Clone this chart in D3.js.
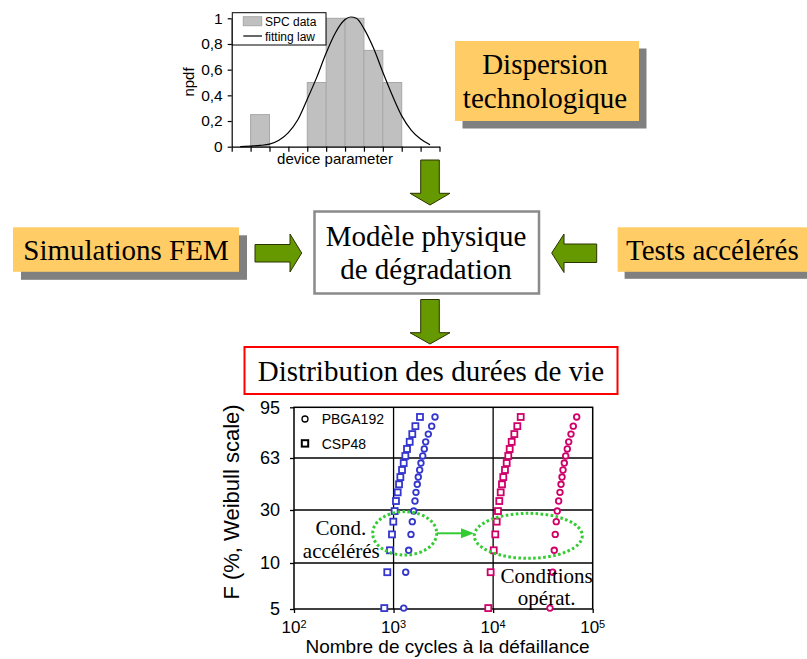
<!DOCTYPE html>
<html>
<head>
<meta charset="utf-8">
<script src="https://cdn.jsdelivr.net/npm/d3@7"></script>
<style>
  body { margin: 0; background: #fff; }
  svg { display: block; }
</style>
</head>
<body>
<script>
// --- histogram (top) ---
const bins = [0, 1, 2, 3, 4, 5, 6, 7, 8, 9, 10]
const npdf = [0, 0.25, 0, 0, 0.5, 1, 1, 0.75, 0.5, 0, 0]
const fitX = [0.45, 1, 1.5, 2, 2.5, 3, 3.5, 4, 4.5, 5, 5.5, 6, 6.3, 6.6, 7, 7.5, 8, 8.5, 9, 9.5, 10, 10.5]
const fitY = [0, 0.005, 0.01, 0.02, 0.05, 0.11, 0.21, 0.37, 0.54, 0.73, 0.89, 0.99, 1.01, 1.0, 0.92, 0.77, 0.58, 0.40, 0.24, 0.13, 0.06, 0.015]
const npdfTicks = [0, 0.2, 0.4, 0.6, 0.8, 1]
const npdfLabels = ['0', '0,2', '0,4', '0,6', '0,8', '1']

// --- Weibull plot (bottom) ---
const fRank = [88.9, 83.1, 78.1, 73.2, 68.7, 64.3, 59.8, 55.4, 50.9, 46.3, 41.2, 35.7, 29.6, 25.6, 20.8, 14.8, 9.0, 5.1]
const cspAccel = [1842, 1656, 1542, 1452, 1365, 1313, 1264, 1216, 1170, 1135, 1100, 1057, 1025, 994, 964, 920, 865, 807]
const pbgaAccel = [2607, 2415, 2233, 2102, 2035, 1963, 1884, 1829, 1771, 1730, 1679, 1641, 1592, 1542, 1496, 1419, 1324, 1265]
const cspOper = [18920, 17490, 16330, 15360, 14660, 14190, 13680, 13150, 12650, 12270, 11910, 11530, 11190, 10860, 10510, 10140, 9440, 8940]
const pbgaOper = [69040, 63830, 60530, 57410, 55580, 53570, 51870, 50330, 49180, 48070, 46920, 45500, 44050, 43050, 42070, 41110, 39630, 37240]
const fTicks = [5, 10, 30, 63, 95]
const fGrid = [10, 30, 63]
const cycleTicks = [100, 1000, 10000, 100000]
const cycleGrid = [1000, 10000]

const w = 807
const h = 659
const sans = "Arial, 'Liberation Sans', sans-serif"
const serif = "'Times New Roman', 'Liberation Serif', serif"
const orange = '#ffcc66'
const shadow = '#808080'
const arrowGreen = '#669900'
const blue = '#3436cc'
const pink = '#d0006a'

const svg = d3.select('body').append('svg')
  .attr('width', w)
  .attr('height', h)

// ---------- histogram ----------
const hx = d3.scaleLinear().domain([0, 11]).range([231.7, 439.5])
const hy = d3.scaleLinear().domain([0, 1]).range([146.7, 18.3])

svg.append('g')
  .selectAll('rect')
  .data(bins)
  .enter()
  .filter((d, i) => npdf[i] > 0)
  .append('rect')
  .attr('x', d => hx(d))
  .attr('y', d => hy(npdf[d]))
  .attr('width', d => hx(d + 1) - hx(d))
  .attr('height', d => hy(0) - hy(npdf[d]))
  .attr('fill', '#c0c0c0')
  .attr('stroke', '#a8a8a8')
  .attr('stroke-width', 1)

const fitLine = d3.line()
  .x((d, i) => hx(fitX[i]))
  .y(d => hy(d))
  .curve(d3.curveMonotoneX)

svg.append('path')
  .attr('d', fitLine(fitY))
  .attr('fill', 'none')
  .attr('stroke', '#000')
  .attr('stroke-width', 1.2)

const hxAxis = svg.append('g')
  .attr('transform', `translate(0, ${hy(0)})`)
  .call(d3.axisBottom(hx).tickValues(d3.range(0, 12)).tickFormat('').tickSize(5).tickSizeOuter(0))
const hyAxis = svg.append('g')
  .attr('transform', `translate(${hx(0)}, 0)`)
  .call(d3.axisLeft(hy).tickValues(npdfTicks).tickFormat((d, i) => npdfLabels[i]).tickSize(4).tickPadding(5).tickSizeOuter(0))
;[hxAxis, hyAxis].forEach(a => {
  a.selectAll('path, line').attr('stroke', '#000').attr('stroke-width', 1.2)
  a.selectAll('text').attr('font-family', sans).attr('font-size', 15.5).attr('fill', '#000')
})

svg.append('text')
  .attr('transform', 'translate(194, 82) rotate(-90)')
  .attr('text-anchor', 'middle')
  .attr('font-family', sans)
  .attr('font-size', 15)
  .text('npdf')

svg.append('text')
  .attr('x', 335)
  .attr('y', 163.5)
  .attr('text-anchor', 'middle')
  .attr('font-family', sans)
  .attr('font-size', 15)
  .text('device parameter')

// histogram legend
svg.append('rect')
  .attr('x', 232.3).attr('y', 12.7).attr('width', 93.7).attr('height', 32.3)
  .attr('fill', '#fff').attr('stroke', '#000').attr('stroke-width', 1)
svg.append('rect')
  .attr('x', 243.3).attr('y', 16.7).attr('width', 18.4).attr('height', 9)
  .attr('fill', '#c0c0c0').attr('stroke', '#a8a8a8')
svg.append('line')
  .attr('x1', 243.3).attr('x2', 262).attr('y1', 36).attr('y2', 36)
  .attr('stroke', '#000').attr('stroke-width', 1.2)
svg.append('text').attr('x', 265).attr('y', 25.5)
  .attr('font-family', sans).attr('font-size', 12).text('SPC data')
svg.append('text').attr('x', 265).attr('y', 40.5)
  .attr('font-family', sans).attr('font-size', 12).text('fitting law')

// ---------- boxes ----------
const shadowBox = (x, y, bw, bh, off) => {
  svg.append('rect').attr('x', x + off).attr('y', y + off).attr('width', bw).attr('height', bh).attr('fill', shadow)
  svg.append('rect').attr('x', x).attr('y', y).attr('width', bw).attr('height', bh).attr('fill', orange)
}
const serifText = (x, y, txt, anchor = 'middle', size = 29) => {
  svg.append('text')
    .attr('x', x).attr('y', y)
    .attr('text-anchor', anchor)
    .attr('font-family', serif)
    .attr('font-size', size)
    .attr('fill', '#000')
    .text(txt)
}

shadowBox(455, 41, 184, 80, 7.5)
serifText(545, 73.5, 'Dispersion')
serifText(545, 107.5, 'technologique')

shadowBox(13, 227.3, 226, 44.5, 8)
serifText(126, 260, 'Simulations FEM')

shadowBox(617.6, 227.3, 200, 44.5, 7)
serifText(626, 260, 'Tests accélérés', 'start')

svg.append('rect')
  .attr('x', 314.5).attr('y', 211.5).attr('width', 224.5).attr('height', 82)
  .attr('fill', '#fff').attr('stroke', '#8a8a8a').attr('stroke-width', 2.5)
serifText(426, 246, 'Modèle physique')
serifText(426, 279, 'de dégradation')

svg.append('rect')
  .attr('x', 244.5).attr('y', 347).attr('width', 373).attr('height', 47)
  .attr('fill', '#fff').attr('stroke', '#ff0000').attr('stroke-width', 2)
serifText(431, 381, 'Distribution des durées de vie')

// ---------- block arrows ----------
const drawArrow = pts => {
  svg.append('polygon')
    .attr('points', pts.map(p => p.join(',')).join(' '))
    .attr('fill', arrowGreen)
    .attr('stroke', '#2b3300')
    .attr('stroke-width', 1)
}
// down arrows: centre x, top, head base, tip
const downArrow = (cx, top, base, tip) => drawArrow([
  [cx - 9.3, top], [cx + 9.3, top], [cx + 9.3, base], [cx + 20, base],
  [cx, tip], [cx - 20, base], [cx - 9.3, base]
])
downArrow(430, 160, 193.3, 205)
downArrow(430, 299.5, 332.7, 344)
// horizontal arrows
drawArrow([[255, 244.5], [290, 244.5], [290, 234], [301.7, 253], [290, 272], [290, 262], [255, 262]])
drawArrow([[596.7, 244], [564, 244], [564, 234], [551.7, 253], [564, 272.5], [564, 262.5], [596.7, 262.5]])

// ---------- Weibull plot ----------
const wx = d3.scaleLog().domain([100, 100000]).range([294, 592.7])
const wy = d3.scaleLinear().domain(fTicks).range([609, 563, 510, 458, 407.3])

const gGrid = svg.append('g').attr('stroke', '#000').attr('stroke-width', 1.3)
gGrid.selectAll('.vg').data(cycleGrid).enter().append('line')
  .attr('x1', d => wx(d)).attr('x2', d => wx(d))
  .attr('y1', wy(95)).attr('y2', wy(5))
gGrid.selectAll('.hg').data(fGrid).enter().append('line')
  .attr('x1', wx(100)).attr('x2', wx(100000))
  .attr('y1', d => wy(d)).attr('y2', d => wy(d))

svg.append('rect')
  .attr('x', wx(100)).attr('y', wy(95))
  .attr('width', wx(100000) - wx(100)).attr('height', wy(5) - wy(95))
  .attr('fill', 'none').attr('stroke', '#000').attr('stroke-width', 1.5)

const wyAxis = svg.append('g')
  .attr('transform', `translate(${wx(100)}, 0)`)
  .call(d3.axisLeft(wy).tickValues(fTicks).tickFormat(d => d).tickSize(4).tickPadding(10).tickSizeOuter(0))
const wxAxis = svg.append('g')
  .attr('transform', `translate(0, ${wy(5)})`)
  .call(d3.axisBottom(wx).tickValues(cycleTicks).tickFormat('').tickSize(4).tickSizeOuter(0))
;[wyAxis, wxAxis].forEach(a => {
  a.select('.domain').remove()
  a.selectAll('line').attr('stroke', '#000').attr('stroke-width', 1.3)
})
wyAxis.selectAll('text').attr('font-family', sans).attr('font-size', 18).attr('fill', '#000')

const xLabels = svg.append('g')
  .attr('font-family', sans)
  .attr('fill', '#000')
  .selectAll('text')
  .data(cycleTicks)
  .enter()
  .append('text')
  .attr('x', d => wx(d))
  .attr('y', 633.3)
  .attr('text-anchor', 'middle')
xLabels.append('tspan').attr('font-size', 17).text('10')
xLabels.append('tspan').attr('font-size', 11).attr('dy', -5).text(d => Math.round(Math.log10(d)))

svg.append('text')
  .attr('x', 447.5).attr('y', 653.3)
  .attr('text-anchor', 'middle')
  .attr('font-family', sans).attr('font-size', 19)
  .text('Nombre de cycles à la défaillance')

svg.append('text')
  .attr('transform', 'translate(239, 502) rotate(-90)')
  .attr('text-anchor', 'middle')
  .attr('font-family', sans).attr('font-size', 22)
  .text('F (%, Weibull scale)')

// markers
const drawCircles = (cycles, color) => {
  svg.append('g').selectAll('circle')
    .data(cycles)
    .enter()
    .append('circle')
    .attr('cx', d => wx(d))
    .attr('cy', (d, i) => wy(fRank[i]))
    .attr('r', 2.8)
    .attr('fill', '#fff')
    .attr('stroke', color)
    .attr('stroke-width', 1.8)
}
const drawSquares = (cycles, color) => {
  svg.append('g').selectAll('rect')
    .data(cycles)
    .enter()
    .append('rect')
    .attr('x', d => wx(d) - 3)
    .attr('y', (d, i) => wy(fRank[i]) - 3)
    .attr('width', 6)
    .attr('height', 6)
    .attr('fill', '#fff')
    .attr('stroke', color)
    .attr('stroke-width', 1.8)
}
drawSquares(cspAccel, blue)
drawCircles(pbgaAccel, blue)
drawSquares(cspOper, pink)
drawCircles(pbgaOper, pink)

// legend
svg.append('circle').attr('cx', 305).attr('cy', 419).attr('r', 3)
  .attr('fill', '#fff').attr('stroke', '#000').attr('stroke-width', 1.3)
svg.append('rect').attr('x', 301.8).attr('y', 440.2).attr('width', 6.4).attr('height', 6.4)
  .attr('fill', '#fff').attr('stroke', '#000').attr('stroke-width', 2)
svg.append('text').attr('x', 321.7).attr('y', 423.5)
  .attr('font-family', sans).attr('font-size', 14).text('PBGA192')
svg.append('text').attr('x', 321.7).attr('y', 448.5)
  .attr('font-family', sans).attr('font-size', 14).text('CSP48')

// dotted ellipses and arrow
const dotGreen = '#33cc33'
svg.append('ellipse')
  .attr('cx', 404.7).attr('cy', 533.3).attr('rx', 32).attr('ry', 21.7)
  .attr('fill', 'none').attr('stroke', dotGreen).attr('stroke-width', 3)
  .attr('stroke-dasharray', '2.6 2.4')
svg.append('ellipse')
  .attr('cx', 528.3).attr('cy', 535.8).attr('rx', 54).attr('ry', 22.5)
  .attr('fill', 'none').attr('stroke', dotGreen).attr('stroke-width', 3)
  .attr('stroke-dasharray', '2.6 2.4')
svg.append('line')
  .attr('x1', 436.7).attr('x2', 463).attr('y1', 533.3).attr('y2', 533.3)
  .attr('stroke', dotGreen).attr('stroke-width', 2)
svg.append('polygon')
  .attr('points', '461,528.3 474,533.3 461,538.3')
  .attr('fill', dotGreen)

serifText(341, 535, 'Cond.', 'middle', 21)
serifText(341.3, 558.3, 'accélérés', 'middle', 21)
serifText(546.7, 583.3, 'Conditions', 'middle', 21)
serifText(546.7, 605, 'opérat.', 'middle', 21)
</script>
</body>
</html>
